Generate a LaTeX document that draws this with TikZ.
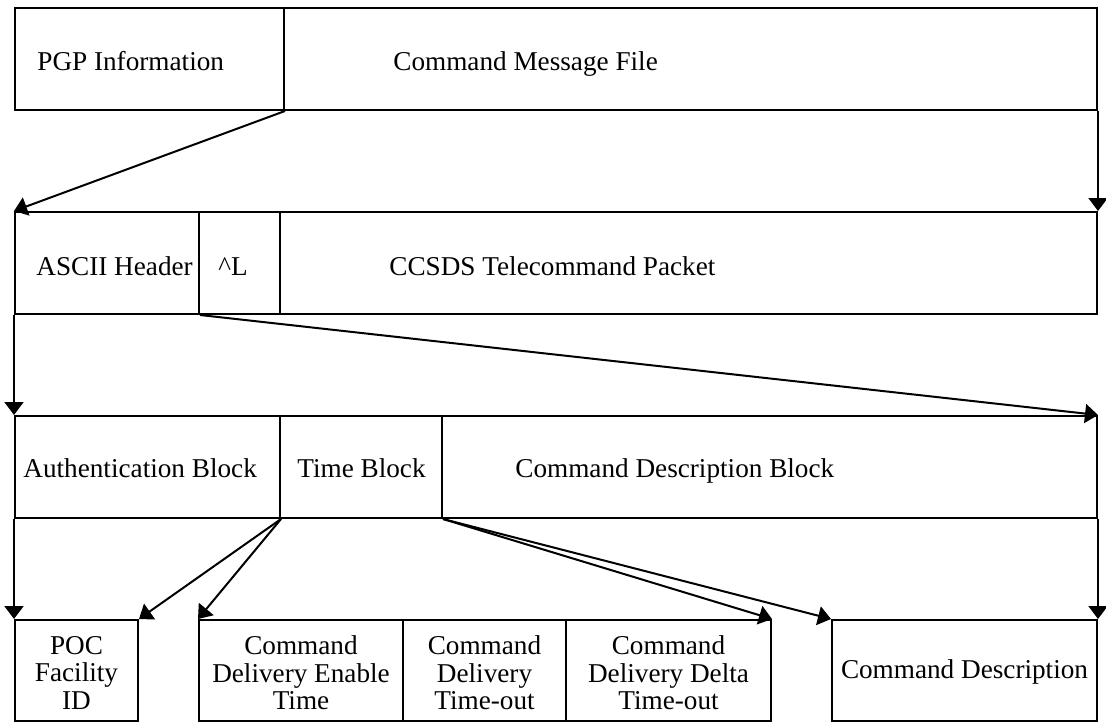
\documentclass[tikz,border=0pt]{standalone}
\usepackage{fontspec}
\setmainfont{Liberation Serif}
\usetikzlibrary{arrows.meta,fit}
\begin{document}
\begin{tikzpicture}[x=0.5pt,y=-0.5pt,
  cell/.style={draw, line width=1pt, inner sep=0pt, rectangle},
  lbl/.style={inner sep=0pt, font=\fontsize{13.6}{13.75}\selectfont},
  mlbl/.style={lbl, align=center},
  conn/.style={line width=1pt, -{Triangle[length=6.5pt,width=9.5pt]}}]
\useasboundingbox (0,0) rectangle (1106,723);
% row 1
\node[cell, fit={(15,8) (284,110)}] (pgp) {};
\node[cell, fit={(284,8) (1097,110)}] (cmf) {};
\node[lbl, anchor=base west] (tpgp) at (37,70) {PGP Information};
\node[lbl, anchor=base west] (tcmf) at (393,70) {Command Message File};
% row 2
\node[cell, fit={(15,212) (199,314)}] (ascii) {};
\node[cell, fit={(199,212) (280,314)}] (ff) {};
\node[cell, fit={(280,212) (1097,314)}] (ccsds) {};
\node[lbl, anchor=base west] (tascii) at (36,275) {ASCII Header};
\node[lbl, anchor=base west] (tff) at (218,275) {\^{}L};
\node[lbl, anchor=base west] (tccsds) at (389,275) {CCSDS Telecommand Packet};
% row 3
\node[cell, fit={(15,416) (280,518)}] (auth) {};
\node[cell, fit={(280,416) (442,518)}] (time) {};
\node[cell, fit={(442,416) (1097,518)}] (cdb) {};
\node[lbl, anchor=base west] (tauth) at (23,477) {Authentication Block};
\node[lbl, anchor=base west] (ttime) at (297,477) {Time Block};
\node[lbl, anchor=base west] (tcdb) at (515,477) {Command Description Block};
% row 4
\node[cell, fit={(15,620) (138,721)}] (poc) {};
\node[cell, fit={(199,620) (403,721)}] (en) {};
\node[cell, fit={(403,620) (566,721)}] (to) {};
\node[cell, fit={(566,620) (771,721)}] (dto) {};
\node[cell, fit={(832,620) (1097,721)}] (cd) {};
\node[mlbl] (tpoc) at (76.5,673) {POC\\Facility\\ID};
\node[mlbl] (ten) at (301,673) {Command\\Delivery Enable\\Time};
\node[mlbl] (tto) at (484.5,673) {Command\\Delivery\\Time-out};
\node[mlbl] (tdto) at (668.5,673) {Command\\Delivery Delta\\Time-out};
\node[lbl, anchor=base] (tcd) at (964.5,678) {Command Description};
% connectors
\draw[conn] (pgp.south east) -- (ascii.north west);
\draw[conn] (cmf.south east) -- (ccsds.north east);
\draw[conn] (ascii.south west) -- (auth.north west);
\draw[conn] (ascii.south east) -- (cdb.north east);
\draw[conn] (auth.south west) -- (poc.north west);
\draw[conn] (auth.south east) -- (poc.north east);
\draw[conn] (auth.south east) -- (en.north west);
\draw[conn] (time.south east) -- (dto.north east);
\draw[conn] (time.south east) -- (cd.north west);
\draw[conn] (cdb.south east) -- (cd.north east);
\end{tikzpicture}
\end{document}
